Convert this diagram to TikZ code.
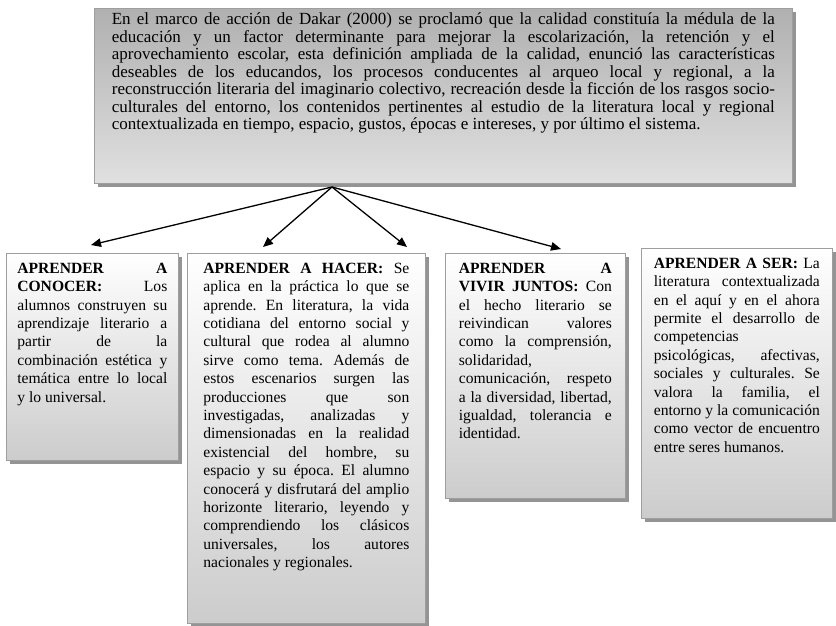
\documentclass[tikz,border=0pt]{standalone}
\usepackage{fontspec}
\setmainfont{Liberation Serif}
\usetikzlibrary{arrows.meta,shadows}

% top-aligned, justified paragraph of fixed width and height
\newcommand{\cellpar}[3]{\parbox[c][#2][t]{#1}{\frenchspacing\tolerance=10000\hyphenpenalty=10000\hbadness=10000\strut #3}}

\begin{document}
\begin{tikzpicture}[x=1pt,y=-1pt,
  panel/.style={draw=black!38, line width=0.7pt, anchor=north west, inner ysep=7pt,
    drop shadow={shadow xshift=3.5pt, shadow yshift=-3.5pt, opacity=1, fill=black!42}},
  topbox/.style={panel, top color=black!31, bottom color=black!12,
    inner xsep=17.5pt, inner ysep=4pt, font=\fontsize{17}{17.5}\selectfont},
  subbox/.style={panel, top color=white, bottom color=black!20,
    font=\fontsize{15.6}{18.4}\selectfont},
  link/.style={-{Triangle[length=10pt,width=8.5pt]}, line width=1.3pt}]

\useasboundingbox (0,0) rectangle (836,625);

% main statement
\node[topbox] (dakar) at (94,8) {\cellpar{663pt}{167pt}{En el marco de acción de Dakar (2000) se proclamó que la calidad constituía la médula de la\linebreak
educación y un factor determinante para mejorar la escolarización, la retención y el\linebreak
aprovechamiento escolar, esta definición ampliada de la calidad, enunció las características\linebreak
deseables de los educandos, los procesos conducentes al arqueo local y regional, a la\linebreak
reconstrucción literaria del imaginario colectivo, recreación desde la ficción de los rasgos socio-\linebreak
culturales del entorno, los contenidos pertinentes al estudio de la literatura local y regional\linebreak
contextualizada en tiempo, espacio, gustos, épocas e intereses, y por último el sistema.}};

% the four learnings
\node[subbox, inner xsep=11pt] (conocer) at (6,253) {\cellpar{150pt}{193pt}{\textbf{APRENDER A}\linebreak
\textbf{CONOCER:} Los\linebreak
alumnos construyen su\linebreak
aprendizaje literario a\linebreak
partir de la\linebreak
combinación estética y\linebreak
temática entre lo local\linebreak
y lo universal.}};

\node[subbox, inner xsep=16pt] (hacer) at (187,253) {\cellpar{206pt}{356pt}{\textbf{APRENDER A HACER:} Se\linebreak
aplica en la práctica lo que se\linebreak
aprende. En literatura, la vida\linebreak
cotidiana del entorno social y\linebreak
cultural que rodea al alumno\linebreak
sirve como tema. Además de\linebreak
estos escenarios surgen las\linebreak
producciones que son\linebreak
investigadas, analizadas y\linebreak
dimensionadas en la realidad\linebreak
existencial del hombre, su\linebreak
espacio y su época. El alumno\linebreak
conocerá y disfrutará del amplio\linebreak
horizonte literario, leyendo y\linebreak
comprendiendo los clásicos\linebreak
universales, los autores\linebreak
nacionales y regionales.}};

\node[subbox, inner xsep=13.5pt] (convivir) at (445,253) {\cellpar{153pt}{231pt}{\textbf{APRENDER A}\linebreak
\textbf{VIVIR JUNTOS:} Con\linebreak
el hecho literario se\linebreak
reivindican valores\linebreak
como la comprensión,\linebreak
solidaridad,\newline
comunicación, respeto\linebreak
a la diversidad, libertad,\linebreak
igualdad, tolerancia e\linebreak
identidad.}};

\node[subbox, inner xsep=12.5pt] (ser) at (641,248) {\cellpar{166pt}{256pt}{\textbf{APRENDER A SER:} La\linebreak
literatura contextualizada\linebreak
en el aquí y en el ahora\linebreak
permite el desarrollo de\linebreak
competencias\newline
psicológicas, afectivas,\linebreak
sociales y culturales. Se\linebreak
valora la familia, el\linebreak
entorno y la comunicación\linebreak
como vector de encuentro\linebreak
entre seres humanos.}};

% arrows fanning out from the statement
\coordinate (apex) at (332,187);
\coordinate (tipA) at (91,245);
\coordinate (tipB) at (263,247);
\coordinate (tipC) at (407,247);
\coordinate (tipD) at (561,249);
\draw[link] (apex) -- (tipA);
\draw[link] (apex) -- (tipB);
\draw[link] (apex) -- (tipC);
\draw[link] (apex) -- (tipD);
\end{tikzpicture}
\end{document}
